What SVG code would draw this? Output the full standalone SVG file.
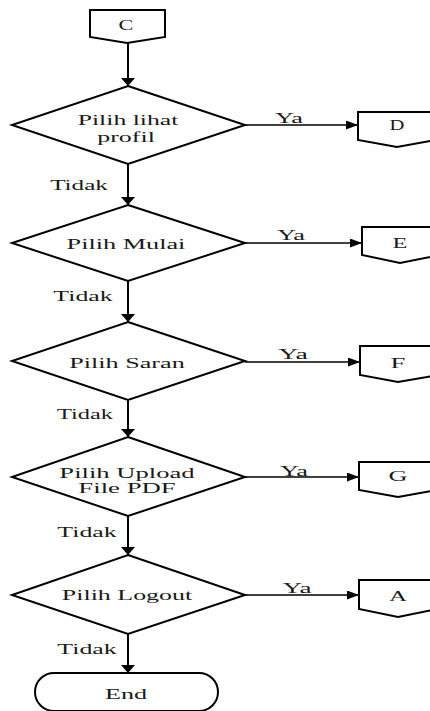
<svg xmlns="http://www.w3.org/2000/svg" width="430" height="711" viewBox="0 0 430 711">
<style>
.shape{fill:#fff;stroke:#000;stroke-width:2;stroke-linejoin:miter}
.lineV{fill:none;stroke:#000;stroke-width:2}
.lineH{fill:none;stroke:#000;stroke-width:1.5}
text{font-family:"Liberation Serif","Times New Roman",serif;font-size:15px;fill:#1a1a1a;text-anchor:middle}
</style>
<defs>
<marker id="arrV" markerUnits="userSpaceOnUse" markerWidth="8" markerHeight="14" viewBox="0 0 8 14" refX="8" refY="7" orient="auto"><path d="M0,0 L8,7 L0,14 z" fill="#000"/></marker>
<marker id="arrH" markerUnits="userSpaceOnUse" markerWidth="12" markerHeight="9" viewBox="0 0 12 9" refX="12" refY="4.5" orient="auto"><path d="M0,0 L12,4.5 L0,9 z" fill="#000"/></marker>
</defs>
<rect width="430" height="711" fill="#fff"/>
<g id="connectors">
<line class="lineV" x1="128" y1="43" x2="128" y2="86" marker-end="url(#arrV)"/>
<line class="lineV" x1="128" y1="164" x2="128" y2="205" marker-end="url(#arrV)"/>
<line class="lineV" x1="128" y1="281" x2="128" y2="322" marker-end="url(#arrV)"/>
<line class="lineV" x1="128" y1="400" x2="128" y2="437" marker-end="url(#arrV)"/>
<line class="lineV" x1="128" y1="516" x2="128" y2="555" marker-end="url(#arrV)"/>
<line class="lineV" x1="128" y1="634" x2="128" y2="673" marker-end="url(#arrV)"/>
<line class="lineH" x1="245" y1="125" x2="358" y2="125" marker-end="url(#arrH)"/>
<line class="lineH" x1="245" y1="243" x2="362" y2="243" marker-end="url(#arrH)"/>
<line class="lineH" x1="245" y1="362" x2="360" y2="362" marker-end="url(#arrH)"/>
<line class="lineH" x1="245" y1="477" x2="359" y2="477" marker-end="url(#arrH)"/>
<line class="lineH" x1="245" y1="595" x2="359" y2="595" marker-end="url(#arrH)"/>
<text transform="translate(289,123) scale(1.65,1)" textLength="17" lengthAdjust="spacingAndGlyphs">Ya</text>
<text transform="translate(79,190) scale(1.65,1)" textLength="35" lengthAdjust="spacingAndGlyphs">Tidak</text>
<text transform="translate(291,240) scale(1.65,1)" textLength="17" lengthAdjust="spacingAndGlyphs">Ya</text>
<text transform="translate(83,301) scale(1.65,1)" textLength="36" lengthAdjust="spacingAndGlyphs">Tidak</text>
<text transform="translate(293,359) scale(1.65,1)" textLength="18" lengthAdjust="spacingAndGlyphs">Ya</text>
<text transform="translate(85,419) scale(1.65,1)" textLength="34" lengthAdjust="spacingAndGlyphs">Tidak</text>
<text transform="translate(294,476) scale(1.65,1)" textLength="17" lengthAdjust="spacingAndGlyphs">Ya</text>
<text transform="translate(87,537) scale(1.65,1)" textLength="36" lengthAdjust="spacingAndGlyphs">Tidak</text>
<text transform="translate(297,593) scale(1.65,1)" textLength="17.5" lengthAdjust="spacingAndGlyphs">Ya</text>
<text transform="translate(87,654) scale(1.65,1)" textLength="36" lengthAdjust="spacingAndGlyphs">Tidak</text>
</g>
<g id="nodeC">
<path class="shape" d="M90,10 H165 V37 L127,43 L90,37 Z"/>
<text transform="translate(126,30) scale(1.65,1)" textLength="9" lengthAdjust="spacingAndGlyphs">C</text>
</g>
<g id="decision1">
<path class="shape" d="M128,86 L245,125 L128,164 L12,125 Z"/>
<text transform="translate(128,125) scale(1.65,1)" textLength="61" lengthAdjust="spacingAndGlyphs">Pilih lihat</text>
<text transform="translate(126,142) scale(1.65,1)" textLength="35" lengthAdjust="spacingAndGlyphs">profil</text>
</g>
<g id="nodeD">
<path class="shape" d="M358,112 H436 V140 L397,147 L358,140 Z"/>
<text transform="translate(397,130) scale(1.65,1)" textLength="9" lengthAdjust="spacingAndGlyphs">D</text>
</g>
<g id="decision2">
<path class="shape" d="M128,205 L245,243 L128,281 L12,243 Z"/>
<text transform="translate(126,249) scale(1.65,1)" textLength="72" lengthAdjust="spacingAndGlyphs">Pilih Mulai</text>
</g>
<g id="nodeE">
<path class="shape" d="M362,227 H440 V255 L400,263 L362,255 Z"/>
<text transform="translate(400,248) scale(1.65,1)" textLength="9" lengthAdjust="spacingAndGlyphs">E</text>
</g>
<g id="decision3">
<path class="shape" d="M128,322 L245,361 L128,400 L12,361 Z"/>
<text transform="translate(127,368) scale(1.65,1)" textLength="70" lengthAdjust="spacingAndGlyphs">Pilih Saran</text>
</g>
<g id="nodeF">
<path class="shape" d="M360,346 H438 V375 L398,382 L360,375 Z"/>
<text transform="translate(398,368) scale(1.65,1)" textLength="9" lengthAdjust="spacingAndGlyphs">F</text>
</g>
<g id="decision4">
<path class="shape" d="M128,437 L245,477 L128,516 L12,477 Z"/>
<text transform="translate(127,478) scale(1.65,1)" textLength="82" lengthAdjust="spacingAndGlyphs">Pilih Upload</text>
<text transform="translate(127,493) scale(1.65,1)" textLength="59" lengthAdjust="spacingAndGlyphs">File PDF</text>
</g>
<g id="nodeG">
<path class="shape" d="M359,462 H437 V490 L398,497 L359,490 Z"/>
<text transform="translate(398,481) scale(1.65,1)" textLength="11.5" lengthAdjust="spacingAndGlyphs">G</text>
</g>
<g id="decision5">
<path class="shape" d="M128,555 L245,595 L128,634 L12,595 Z"/>
<text transform="translate(127,600) scale(1.65,1)" textLength="79" lengthAdjust="spacingAndGlyphs">Pilih Logout</text>
</g>
<g id="nodeA">
<path class="shape" d="M359,580 H437 V609 L398,617 L359,609 Z"/>
<text transform="translate(398,601) scale(1.65,1)" textLength="11" lengthAdjust="spacingAndGlyphs">A</text>
</g>
<g id="end">
<rect class="shape" x="35" y="673" width="183" height="38" rx="19" ry="19"/>
<text transform="translate(126,699) scale(1.65,1)" textLength="25.5" lengthAdjust="spacingAndGlyphs">End</text>
</g>
</svg>
